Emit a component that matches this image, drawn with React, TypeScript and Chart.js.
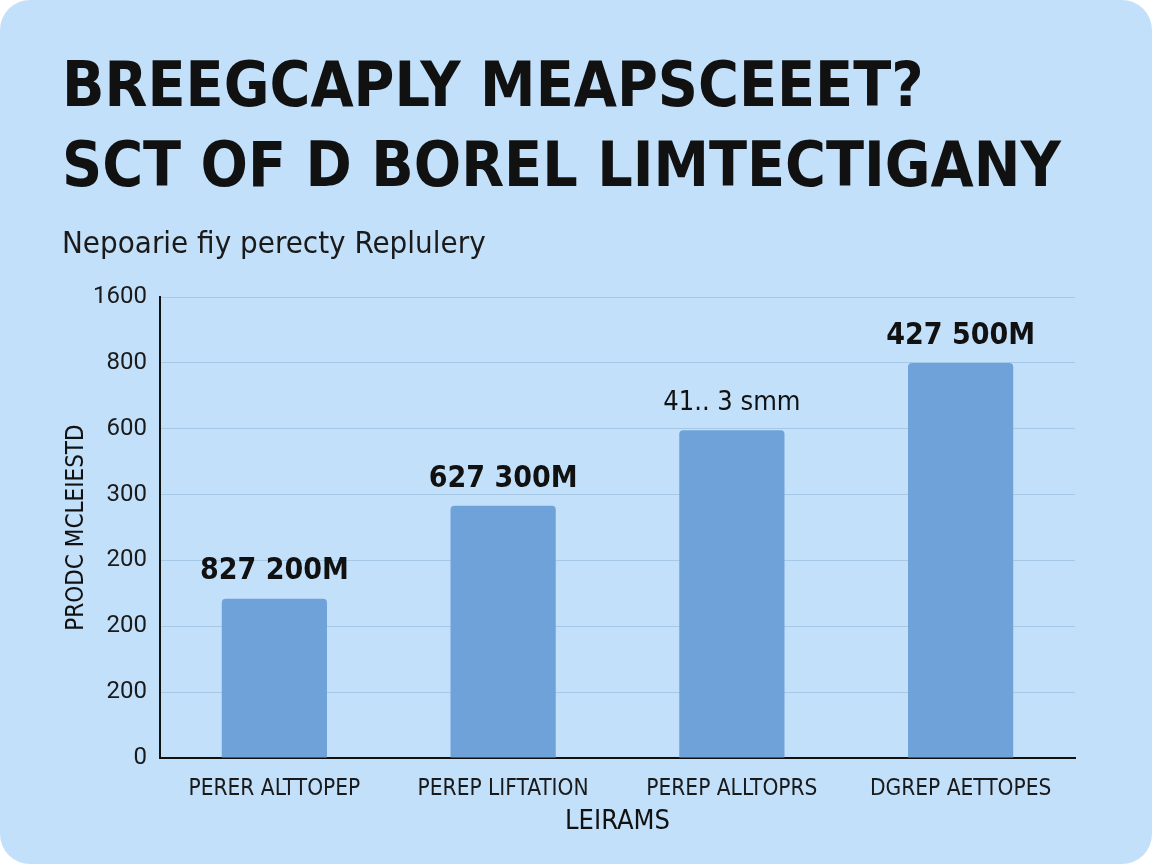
import React, { useEffect, useRef } from "react";
import { Chart, registerables } from "chart.js";

Chart.register(...registerables);

const categories = ["PERER ALTTOPEP", "PEREP LIFTATION", "PEREP ALLTOPRS", "DGREP AETTOPES"];
const barLevels = [2.42, 3.83, 4.98, 6.0];
const barLabels = ["827 200M", "627 300M", "41.. 3 smm", "427 500M"];
const barLabelBold = [true, true, false, true];
const yTickLabels = ["0", "200", "200", "200", "300", "600", "800", "1600"];
const titleLines = ["BREEGCAPLY MEAPSCEEET?", "SCT OF D BOREL LIMTECTIGANY"];
const subtitleText = "Nepoarie fiy perecty Replulery";
const yAxisTitle = "PRODC MCLEIESTD";
const xAxisTitle = "LEIRAMS";

const CONDENSED = "'DejaVu Sans Condensed', 'Liberation Sans Narrow', 'DejaVu Sans', sans-serif";
const PLAIN = "Roboto, 'Noto Sans', sans-serif";

const barLabelPlugin = {
  id: "barLabelPlugin",
  afterDatasetsDraw(chart: any) {
    const ctx = chart.ctx;
    const meta = chart.getDatasetMeta(0);
    ctx.save();
    ctx.textAlign = "center";
    ctx.textBaseline = "middle";
    ctx.fillStyle = "#111111";
    meta.data.forEach((bar: any, i: number) => {
      const bold = barLabelBold[i];
      ctx.font = bold ? `bold 30px ${CONDENSED}` : `27px ${CONDENSED}`;
      ctx.fillText(barLabels[i], bar.x, bar.y - 27);
    });
    ctx.restore();
  },
};

export default function App() {
  const canvasRef = useRef<HTMLCanvasElement | null>(null);

  useEffect(() => {
    const canvas = canvasRef.current;
    if (!canvas) return;
    const chart = new Chart(canvas, {
      type: "bar",
      data: {
        labels: categories,
        datasets: [
          {
            data: barLevels,
            backgroundColor: "#6fa2d9",
            borderRadius: 4,
            barPercentage: 0.46,
            categoryPercentage: 1,
          },
        ],
      },
      options: {
        animation: false,
        responsive: true,
        maintainAspectRatio: false,
        layout: { padding: { left: 62, right: 77, top: 50, bottom: 20 } },
        plugins: {
          legend: { display: false },
          tooltip: { enabled: false },
          title: {
            display: true,
            text: titleLines,
            align: "start",
            color: "#111111",
            font: { family: CONDENSED, size: 62, weight: "bold", lineHeight: 1.29 },
            padding: { top: 0, bottom: 16 },
          },
          subtitle: {
            display: true,
            text: subtitleText,
            align: "start",
            color: "#1a1a1a",
            font: { family: CONDENSED, size: 31, weight: "normal", lineHeight: 1.2 },
            padding: { top: 0, bottom: 34 },
          },
        },
        scales: {
          x: {
            grid: { display: false, drawTicks: false },
            border: { display: true, color: "#111111", width: 2 },
            ticks: {
              color: "#1a1a1a",
              font: { family: CONDENSED, size: 22.5 },
              padding: 18,
              maxRotation: 0,
            },
            title: {
              display: true,
              text: xAxisTitle,
              color: "#111111",
              font: { family: CONDENSED, size: 27 },
              padding: { top: 0, bottom: 6 },
            },
            afterFit(scale: any) {
              scale.height = 86;
            },
          },
          y: {
            min: 0,
            max: 7,
            grid: { color: "rgba(140,180,215,0.55)", lineWidth: 1, drawTicks: false },
            border: { display: true, color: "#111111", width: 2 },
            ticks: {
              stepSize: 1,
              color: "#1a1a1a",
              font: { family: PLAIN, size: 24 },
              padding: 13,
              callback: (v: any) => yTickLabels[Number(v)] ?? "",
            },
            title: {
              display: true,
              text: yAxisTitle,
              color: "#111111",
              font: { family: CONDENSED, size: 24 },
              padding: { top: 0, bottom: 0 },
            },
            afterFit(scale: any) {
              scale.width = 98;
            },
          },
        },
      },
      plugins: [barLabelPlugin],
    } as any);
    return () => chart.destroy();
  }, []);

  return (
    <div style={{ position: "fixed", inset: 0, background: "#ffffff" }}>
      <div
        style={{
          position: "absolute",
          inset: 0,
          borderRadius: 30,
          background: "#c3e0fa",
          overflow: "hidden",
        }}
      >
        <canvas ref={canvasRef} />
      </div>
    </div>
  );
}
